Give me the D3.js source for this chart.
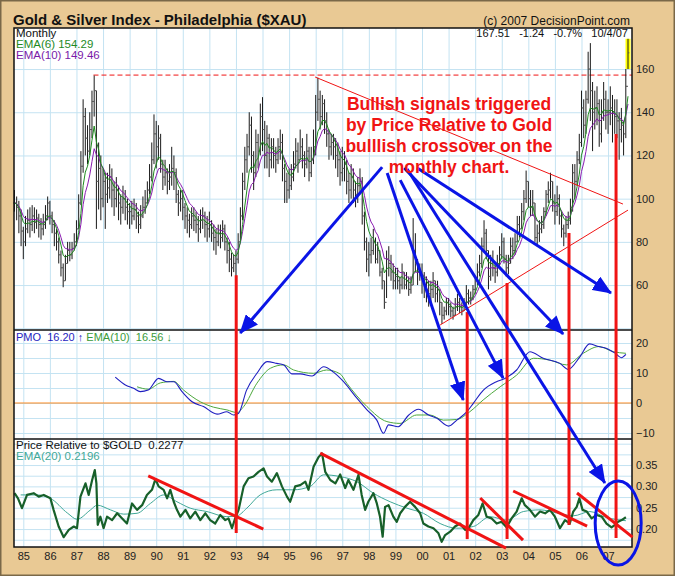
<!DOCTYPE html>
<html>
<head>
<meta charset="utf-8">
<script src="https://cdn.jsdelivr.net/npm/d3@7"></script>
<style>
  body { margin: 0; background: #E9C994; }
  svg { display: block; font-family: "Liberation Sans", Arial, sans-serif; }
</style>
</head>
<body>
<div id="chart"></div>
<script>
// monthly bars, first bar = Sep 1984
const firstMonth = 1984 + 8 / 12;

const closes = [
  98, 96, 92, 85,
  80, 86, 90, 88, 92, 89, 91, 88, 86, 88, 92, 98,
  92, 88, 84, 80, 74, 68, 62, 70, 76, 74, 77, 80,
  86, 98, 115, 138, 128, 122, 132, 145, 150, 108, 114, 100,
  108, 102, 105, 110, 104, 100, 104, 98, 96, 100, 96, 94,
  94, 92, 95, 92, 88, 92, 96, 98, 104, 110, 118, 130,
  124, 128, 116, 110, 112, 108, 110, 114, 112, 102, 98, 100,
  96, 92, 90, 88, 92, 90, 88, 86, 90, 92, 88, 86,
  88, 84, 82, 80, 84, 82, 86, 80, 76, 72, 68, 70,
  72, 80, 92, 108, 118, 124, 134, 120, 112, 126, 122, 138,
  132, 120, 128, 118, 124, 120, 118, 124, 126, 114, 108, 104,
  106, 110, 116, 122, 118, 124, 120, 116, 122, 112, 118, 124,
  140, 146, 138, 144, 136, 130, 124, 126, 124, 120, 118, 112,
  114, 116, 108, 104, 110, 104, 102, 106, 108, 92, 80, 72,
  74, 76, 80, 72, 76, 66, 62, 52, 72, 70, 66, 62,
  64, 62, 60, 66, 60, 62, 58, 60, 76, 70, 66, 66,
  62, 60, 58, 56, 58, 62, 56, 58, 52, 46, 48, 52,
  50, 48, 46, 50, 52, 50, 48, 52, 56, 54, 54, 58,
  62, 66, 70, 78, 84, 76, 64, 70, 68, 66, 70, 74,
  80, 72, 68, 70, 78, 76, 80, 88, 86, 94, 100, 108,
  100, 96, 98, 82, 84, 86, 88, 94, 102, 104, 108, 98,
  94, 100, 92, 86, 84, 88, 90, 96, 112, 108, 118, 126,
  142, 134, 146, 160, 150, 140, 142, 144, 130, 140, 146, 140,
  140, 142, 140, 138, 136, 132, 134, 130, 152, 167.51
];
const highs = [
  104, 101, 99, 95,
  87, 92, 95, 96, 97, 96, 95, 93, 91, 93, 97, 101,
  99, 94, 90, 86, 82, 76, 70, 74, 80, 80, 80, 84,
  90, 102, 122, 146, 142, 134, 140, 150, 157, 150, 126, 120,
  114, 112, 112, 116, 114, 108, 110, 106, 102, 106, 104, 100,
  98, 99, 100, 98, 94, 97, 101, 104, 108, 116, 126, 139,
  136, 134, 130, 118, 118, 114, 116, 124, 120, 114, 104, 104,
  104, 98, 96, 93, 96, 96, 94, 92, 95, 96, 94, 92,
  94, 90, 88, 86, 88, 88, 90, 88, 82, 80, 75, 74,
  76, 84, 96, 112, 124, 130, 140, 138, 122, 132, 130, 144,
  147, 136, 134, 130, 128, 128, 124, 128, 132, 130, 116, 112,
  114, 116, 122, 128, 126, 132, 128, 122, 130, 124, 124, 132,
  148, 156, 150, 148, 146, 140, 132, 130, 130, 128, 126, 122,
  124, 122, 118, 112, 116, 114, 108, 110, 114, 110, 94, 82,
  80, 82, 86, 82, 80, 76, 68, 62, 76, 78, 74, 70,
  68, 68, 64, 70, 66, 66, 64, 64, 91, 84, 72, 70,
  70, 66, 64, 62, 62, 66, 62, 62, 58, 52, 50, 54,
  54, 52, 50, 54, 56, 54, 52, 54, 60, 58, 57, 60,
  64, 70, 74, 82, 90, 86, 76, 74, 76, 70, 74, 78,
  84, 82, 74, 74, 82, 82, 84, 92, 92, 98, 104, 113,
  108, 104, 104, 98, 88, 90, 92, 96, 104, 108, 112, 108,
  102, 106, 102, 94, 88, 92, 94, 100, 116, 116, 122, 130,
  150, 146, 150, 168, 172, 154, 150, 152, 146, 146, 154, 150,
  146, 152, 148, 146, 146, 140, 142, 136, 160, 174
];
const lows = [
  94, 90, 84, 78,
  72, 78, 84, 82, 85, 84, 86, 82, 81, 83, 86, 90,
  88, 84, 78, 76, 70, 64, 59, 62, 70, 71, 72, 76,
  78, 86, 97, 112, 120, 116, 120, 128, 138, 86, 95, 90,
  96, 86, 98, 100, 96, 92, 96, 90, 88, 93, 90, 88,
  86, 88, 90, 86, 84, 86, 91, 93, 98, 102, 108, 116,
  114, 118, 112, 104, 106, 102, 104, 106, 104, 98, 92, 94,
  90, 86, 84, 82, 86, 85, 84, 80, 84, 86, 82, 80,
  82, 80, 76, 74, 78, 77, 80, 76, 70, 66, 64, 66,
  64, 70, 80, 90, 104, 112, 120, 112, 104, 110, 114, 120,
  122, 114, 114, 110, 114, 114, 112, 116, 118, 108, 98, 98,
  100, 104, 108, 114, 112, 118, 114, 110, 114, 108, 110, 116,
  120, 136, 132, 134, 130, 124, 118, 120, 118, 114, 110, 106,
  108, 108, 102, 98, 100, 98, 96, 98, 102, 88, 76, 66,
  64, 70, 74, 70, 70, 64, 58, 49, 54, 64, 62, 58,
  58, 58, 56, 58, 58, 58, 55, 56, 60, 66, 60, 62,
  56, 54, 52, 50, 52, 54, 52, 52, 46, 42, 44, 46,
  46, 45, 44, 46, 48, 47, 46, 48, 50, 51, 51, 53,
  56, 60, 64, 68, 76, 72, 58, 62, 64, 61, 64, 68,
  72, 70, 64, 65, 70, 72, 74, 80, 82, 86, 90, 98,
  96, 92, 92, 80, 78, 80, 84, 86, 92, 98, 100, 94,
  88, 92, 88, 82, 78, 82, 86, 88, 94, 100, 106, 116,
  124, 128, 130, 144, 136, 122, 132, 134, 124, 126, 136, 132,
  130, 134, 126, 130, 128, 118, 126, 120, 128, 160
];

// PMO and its signal line (decimal year, value)
const pmoT = [1988.46, 1988.84, 1989.15, 1989.40, 1989.70, 1990.09, 1990.40, 1990.66, 1990.97, 1991.35,
  1991.78, 1992.29, 1992.66, 1992.91, 1993.10, 1993.40, 1993.79, 1994.17, 1994.54, 1994.80,
  1995.10, 1995.42, 1995.86, 1996.30, 1996.67, 1997.05, 1997.55, 1997.93, 1998.30, 1998.55,
  1998.74, 1999.10, 1999.50, 1999.87, 2000.25, 2000.56, 2001.00, 2001.31, 2001.69, 2001.93,
  2002.31, 2002.80, 2003.12, 2003.56, 2004.06, 2004.56, 2005.19, 2005.50, 2005.94, 2006.30,
  2006.65, 2006.95, 2007.25, 2007.50, 2007.67];
const pmoV = [8.6, 6.0, 4.9, 3.8, 4.3, 8.2, 7.1, 7.1, 3.8, 0.4,
  -1.2, -3.7, -2.9, -4.0, -3.4, 4.3, 9.9, 13.8, 13.2, 12.7,
  9.7, 9.7, 9.0, 12.1, 10.3, 7.1, 1.6, -2.3, -5.7, -10.1,
  -7.3, -7.9, -4.0, -2.1, -4.0, -5.1, -7.7, -5.7, -2.9, -0.1,
  4.3, 7.1, 8.2, 11.0, 17.1, 14.9, 13.2, 11.2, 15.4, 19.7,
  18.8, 18.2, 16.7, 15.1, 16.2];
const sigT = [1989.28, 1989.70, 1990.16, 1990.66, 1991.03, 1991.66, 1992.16, 1992.66, 1993.04, 1993.29,
  1993.79, 1994.30, 1994.80, 1995.17, 1995.92, 1996.41, 1996.92, 1997.17, 1997.93, 1998.68,
  1999.17, 1999.80, 2000.30, 2000.80, 2001.30, 2001.80, 2002.30, 2002.94, 2003.56, 2004.20,
  2004.80, 2005.44, 2006.07, 2006.65, 2007.20, 2007.67];
const sigV = [5.4, 4.6, 6.7, 7.2, 4.3, 0.4, -1.4, -2.3, -3.2, -1.2,
  6.6, 11.6, 12.7, 11.0, 9.9, 11.0, 9.7, 6.6, -1.2, -6.2,
  -6.8, -4.0, -4.0, -5.7, -5.5, -2.9, 1.0, 5.4, 9.3, 14.9,
  14.3, 12.7, 16.6, 18.8, 17.1, 16.56];

// Price relative to $GOLD and its EMA(20)
const relT = [1984.67, 1984.80, 1984.95, 1985.14, 1985.39, 1985.58, 1985.77, 1986.02, 1986.14, 1986.33,
  1986.52, 1986.71, 1986.90, 1987.02, 1987.15, 1987.34, 1987.46, 1987.59, 1987.69, 1987.75,
  1987.80, 1987.90, 1988.02, 1988.15, 1988.34, 1988.53, 1988.72, 1988.90, 1989.09, 1989.28,
  1989.47, 1989.65, 1989.84, 1989.97, 1990.09, 1990.28, 1990.41, 1990.53, 1990.66, 1990.78,
  1990.91, 1991.10, 1991.28, 1991.47, 1991.66, 1991.85, 1992.03, 1992.22, 1992.41, 1992.60,
  1992.72, 1992.85, 1992.97, 1993.10, 1993.29, 1993.47, 1993.66, 1993.85, 1994.04, 1994.17,
  1994.35, 1994.54, 1994.73, 1994.92, 1995.04, 1995.23, 1995.42, 1995.61, 1995.73, 1995.92,
  1996.11, 1996.24, 1996.36, 1996.55, 1996.74, 1996.92, 1997.11, 1997.23, 1997.42, 1997.61,
  1997.73, 1997.86, 1997.98, 1998.17, 1998.30, 1998.42, 1998.52, 1998.61, 1998.74, 1998.92,
  1999.05, 1999.18, 1999.36, 1999.55, 1999.74, 1999.93, 2000.05, 2000.24, 2000.43, 2000.62,
  2000.74, 2000.87, 2001.06, 2001.24, 2001.43, 2001.62, 2001.75, 2001.93, 2002.12, 2002.28,
  2002.43, 2002.62, 2002.81, 2002.99, 2003.18, 2003.37, 2003.56, 2003.75, 2003.87, 2004.06,
  2004.25, 2004.44, 2004.63, 2004.81, 2005.00, 2005.19, 2005.38, 2005.56, 2005.69, 2005.82,
  2005.92, 2006.04, 2006.20, 2006.38, 2006.57, 2006.76, 2006.94, 2007.13, 2007.26, 2007.38,
  2007.51, 2007.67];
const relV = [0.284, 0.272, 0.249, 0.280, 0.284, 0.276, 0.280, 0.272, 0.245, 0.206,
  0.181, 0.198, 0.206, 0.202, 0.276, 0.307, 0.280, 0.315, 0.338, 0.307,
  0.210, 0.229, 0.202, 0.229, 0.221, 0.237, 0.225, 0.213, 0.260, 0.245,
  0.256, 0.280, 0.292, 0.317, 0.300, 0.292, 0.272, 0.292, 0.264, 0.245,
  0.229, 0.245, 0.225, 0.241, 0.221, 0.237, 0.221, 0.213, 0.233, 0.221,
  0.225, 0.202, 0.225, 0.245, 0.300, 0.319, 0.323, 0.334, 0.342, 0.323,
  0.311, 0.331, 0.300, 0.276, 0.264, 0.300, 0.303, 0.311, 0.292, 0.346,
  0.369, 0.377, 0.334, 0.315, 0.307, 0.328, 0.296, 0.315, 0.292, 0.327,
  0.280, 0.245, 0.264, 0.284, 0.260, 0.229, 0.182, 0.252, 0.256, 0.229,
  0.217, 0.237, 0.252, 0.264, 0.252, 0.237, 0.213, 0.206, 0.202, 0.190,
  0.170, 0.186, 0.194, 0.206, 0.213, 0.198, 0.202, 0.221, 0.233, 0.260,
  0.229, 0.225, 0.213, 0.217, 0.204, 0.225, 0.241, 0.272, 0.256, 0.245,
  0.229, 0.241, 0.237, 0.245, 0.229, 0.202, 0.221, 0.213, 0.241, 0.252,
  0.272, 0.245, 0.241, 0.225, 0.233, 0.229, 0.213, 0.204, 0.210, 0.217,
  0.221, 0.2277];
const relEmaT = [1984.90, 1985.50, 1986.02, 1986.67, 1987.02, 1987.53, 1987.78, 1988.28, 1988.78, 1989.28,
  1989.78, 1990.28, 1990.78, 1991.28, 1991.91, 1992.66, 1993.04, 1993.41, 1993.91, 1994.54,
  1995.17, 1995.79, 1996.30, 1996.92, 1997.55, 1998.17, 1998.80, 1999.43, 2000.05, 2000.68,
  2001.31, 2001.93, 2002.56, 2003.18, 2003.81, 2004.44, 2005.06, 2005.69, 2006.32, 2006.94,
  2007.67];
const relEmaV = [0.280, 0.280, 0.272, 0.237, 0.223, 0.245, 0.256, 0.245, 0.235, 0.237,
  0.260, 0.280, 0.264, 0.249, 0.241, 0.229, 0.231, 0.249, 0.280, 0.292,
  0.292, 0.300, 0.327, 0.323, 0.311, 0.284, 0.264, 0.249, 0.237, 0.213,
  0.202, 0.206, 0.229, 0.221, 0.241, 0.245, 0.238, 0.231, 0.241, 0.227,
  0.2196];

// axis ticks
const years = d3.range(1985, 2008);
const priceTicks = [60, 80, 100, 120, 140, 160];
const priceGrid = [40, 60, 80, 100, 120, 140, 160];
const pmoTicks = [-10, 0, 10, 20];
const pmoGrid = [-10, -5, 0, 5, 10, 15, 20];
const relTicks = [0.20, 0.25, 0.30, 0.35];
const relGrid = [0.175, 0.20, 0.225, 0.25, 0.275, 0.30, 0.325, 0.35, 0.375, 0.40];

// annotations (data units)
const resistancePrice = 157.2, resistanceStart = 1987.64;
const downTrend = [[1995.98, 156.3], [2007.56, 97.5]];
const upTrend = [[2000.68, 41.5], [2007.75, 94.7]];
const signalT = [1993.01, 2001.70, 2003.20, 2005.53, 2007.30];
const signalTopPrice = [64.6, 47.5, 60.9, 84.1, 129.9];
const signalBottomRel = [0.1906, 0.1765, 0.1765, 0.2094, 0.1789];
const relTrends = [
  [[1989.70, 0.3244], [1994.03, 0.200]],
  [[1996.17, 0.378], [2003.16, 0.1554]],
  [[2002.19, 0.2728], [2003.80, 0.1742]],
  [[2003.43, 0.2892], [2006.21, 0.207]],
  [[2005.83, 0.2845], [2007.92, 0.1812]]
];
const arrowFrom = [[1998.50, 114.6], [1998.69, 111.9], [1999.18, 108.6], [1999.33, 114.2], [1999.44, 113.7], [1999.82, 114.2]];
const arrowToPanel = ["pmo", "pmo", "pmo", "pmo", "rel", "price"];
const arrowTo = [[1993.16, 23.3], [2001.55, 1.0], [2003.05, 8.3], [2005.31, 23.0], [2006.88, 0.308], [2007.11, 56.3]];
const ellipseCenter = [2007.38, 0.214];
const noteLines = ["Bullish signals triggered", "by Price Relative to Gold", "bulllish crossover on the", "monthly chart."];

const W = 675, H = 576;
const plot = {left: 14, right: 632, top: 28, priceBottom: 330, pmoBottom: 439, bottom: 547};
const RED = "#F01414", BLUE = "#0A14E6", GRID = "#C4E3F2";

const svg = d3.select("#chart").append("svg").attr("width", W).attr("height", H);
svg.append("rect").attr("width", W).attr("height", H).attr("fill", "#E9C994");
svg.append("rect").attr("x", 0.75).attr("y", 0.75).attr("width", W - 1.5).attr("height", H - 1.5)
  .attr("fill", "none").attr("stroke", "#7a6848").attr("stroke-width", 1.5);

const x = d3.scaleLinear().domain([1984.65, 2007.9]).range([plot.left, plot.right]);
const yPrice = d3.scaleLinear().domain([39.2, 179]).range([plot.priceBottom, plot.top]);
const yPmo = d3.scaleLinear().domain([-12, 24.33]).range([plot.pmoBottom, plot.priceBottom]);
const yRel = d3.scaleLinear().domain([0.158, 0.411]).range([plot.bottom, plot.pmoBottom]);
const yOf = {price: yPrice, pmo: yPmo, rel: yRel};

svg.append("rect").attr("x", plot.left).attr("y", plot.top)
  .attr("width", plot.right - plot.left).attr("height", plot.bottom - plot.top).attr("fill", "#fff");

// grid lines per panel
function panelGrid(yScale, gridVals, top, bottom) {
  const g = svg.append("g");
  g.append("g").attr("transform", "translate(" + plot.left + ",0)")
    .call(d3.axisLeft(yScale).tickValues(gridVals).tickSize(-(plot.right - plot.left)).tickFormat(""));
  g.append("g").attr("transform", "translate(0," + bottom + ")")
    .call(d3.axisBottom(x).tickValues(years).tickSize(-(bottom - top)).tickFormat(""));
  g.selectAll(".domain").remove();
  g.selectAll(".tick line").attr("stroke", GRID).attr("stroke-width", 1);
}
panelGrid(yPrice, priceGrid, plot.top, plot.priceBottom);
panelGrid(yPmo, pmoGrid, plot.priceBottom, plot.pmoBottom);
panelGrid(yRel, relGrid, plot.pmoBottom, plot.bottom);

// right-hand value labels
function rightAxis(yScale, ticks, fmt) {
  const g = svg.append("g").attr("transform", "translate(" + plot.right + ",0)")
    .call(d3.axisRight(yScale).tickValues(ticks).tickSize(0).tickPadding(4).tickFormat(fmt));
  g.select(".domain").remove();
  g.selectAll("text").attr("font-size", 11).attr("fill", "#222")
    .attr("font-family", "Liberation Sans, Arial, sans-serif");
}
rightAxis(yPrice, priceTicks, d3.format("d"));
rightAxis(yPmo, pmoTicks, d3.format("d"));
rightAxis(yRel, relTicks, d3.format(".2f"));

// year labels
const gx = svg.append("g").attr("transform", "translate(0," + plot.bottom + ")")
  .call(d3.axisBottom(x).tickValues(years).tickSize(0).tickPadding(5).tickFormat(d => String(d).slice(2)));
gx.select(".domain").remove();
gx.selectAll("text").attr("font-size", 11).attr("fill", "#222")
  .attr("font-family", "Liberation Sans, Arial, sans-serif");

// ---- price panel ----
const bars = closes.map((c, i) => ({t: firstMonth + i / 12, o: i > 0 ? closes[i - 1] : c, c: c, h: highs[i], l: lows[i]}));
const last = bars[bars.length - 1];

svg.append("line")
  .attr("x1", x(resistanceStart)).attr("x2", plot.right)
  .attr("y1", yPrice(resistancePrice)).attr("y2", yPrice(resistancePrice))
  .attr("stroke", RED).attr("stroke-width", 1).attr("stroke-dasharray", "5,3");

svg.append("rect")
  .attr("x", x(last.t) - 2.5).attr("y", yPrice(last.h))
  .attr("width", 5).attr("height", yPrice(last.l) - yPrice(last.h))
  .attr("fill", "#FFFF00");

const gBars = svg.append("g").attr("stroke", "#1a1a1a").attr("stroke-width", 1);
gBars.selectAll("line.hl").data(bars).join("line").attr("class", "hl")
  .attr("x1", d => x(d.t)).attr("x2", d => x(d.t))
  .attr("y1", d => yPrice(d.h)).attr("y2", d => yPrice(d.l));
gBars.selectAll("line.op").data(bars).join("line").attr("class", "op")
  .attr("x1", d => x(d.t) - 1.3).attr("x2", d => x(d.t))
  .attr("y1", d => yPrice(d.o)).attr("y2", d => yPrice(d.o)).attr("stroke", "#555");
gBars.selectAll("line.cl").data(bars).join("line").attr("class", "cl")
  .attr("x1", d => x(d.t)).attr("x2", d => x(d.t) + 1.3)
  .attr("y1", d => yPrice(d.c)).attr("y2", d => yPrice(d.c)).attr("stroke", "#555");

function ema(vals, n) {
  const k = 2 / (n + 1);
  let e = vals[0];
  return vals.map((v, i) => (e = i === 0 ? v : v * k + e * (1 - k)));
}
const ema6 = ema(closes, 6), ema10 = ema(closes, 10);
const priceLine = d3.line().x((d, i) => x(bars[i].t)).y(d => yPrice(d));
svg.append("path").attr("d", priceLine(ema10)).attr("fill", "none").attr("stroke", "#8A1AB0").attr("stroke-width", 1);
svg.append("path").attr("d", priceLine(ema6)).attr("fill", "none").attr("stroke", "#1E8A1E").attr("stroke-width", 1);

[downTrend, upTrend].forEach(seg => {
  svg.append("line")
    .attr("x1", x(seg[0][0])).attr("y1", yPrice(seg[0][1]))
    .attr("x2", x(seg[1][0])).attr("y2", yPrice(seg[1][1]))
    .attr("stroke", RED).attr("stroke-width", 1);
});

// ---- PMO panel ----
svg.append("line").attr("x1", plot.left).attr("x2", plot.right)
  .attr("y1", yPmo(0)).attr("y2", yPmo(0)).attr("stroke", "#FF8A1E").attr("stroke-width", 1.2);
const pmoLine = d3.line().x(d => x(d[0])).y(d => yPmo(d[1])).curve(d3.curveMonotoneX);
svg.append("path").attr("d", pmoLine(d3.zip(sigT, sigV))).attr("fill", "none").attr("stroke", "#4CA83C").attr("stroke-width", 1);
svg.append("path").attr("d", pmoLine(d3.zip(pmoT, pmoV))).attr("fill", "none").attr("stroke", "#1E1EC0").attr("stroke-width", 1.1);

// ---- price relative panel ----
svg.append("path")
  .attr("d", d3.line().x(d => x(d[0])).y(d => yRel(d[1])).curve(d3.curveMonotoneX)(d3.zip(relEmaT, relEmaV)))
  .attr("fill", "none").attr("stroke", "#3FA898").attr("stroke-width", 1);
svg.append("path")
  .attr("d", d3.line().x(d => x(d[0])).y(d => yRel(d[1]))(d3.zip(relT, relV)))
  .attr("fill", "none").attr("stroke", "#17602A").attr("stroke-width", 2.2).attr("stroke-linejoin", "round");

// panel frames
const frame = svg.append("g").attr("stroke", "#111").attr("stroke-width", 1.5).attr("fill", "none");
frame.append("rect").attr("x", plot.left).attr("y", plot.top)
  .attr("width", plot.right - plot.left).attr("height", plot.bottom - plot.top);
[plot.priceBottom, plot.pmoBottom].forEach(yy => {
  frame.append("line").attr("x1", plot.left).attr("x2", plot.right).attr("y1", yy).attr("y2", yy);
});

// ---- annotations ----
relTrends.forEach(seg => {
  svg.append("line")
    .attr("x1", x(seg[0][0])).attr("y1", yRel(seg[0][1]))
    .attr("x2", x(seg[1][0])).attr("y2", yRel(seg[1][1]))
    .attr("stroke", RED).attr("stroke-width", 3);
});
signalT.forEach((t, i) => {
  svg.append("line")
    .attr("x1", x(t)).attr("x2", x(t))
    .attr("y1", yPrice(signalTopPrice[i])).attr("y2", yRel(signalBottomRel[i]))
    .attr("stroke", RED).attr("stroke-width", 3);
});

svg.append("defs").append("marker")
  .attr("id", "head").attr("markerUnits", "userSpaceOnUse")
  .attr("markerWidth", 20).attr("markerHeight", 16)
  .attr("refX", 18).attr("refY", 8).attr("orient", "auto")
  .append("path").attr("d", "M0,0 L19,8 L0,16 Z").attr("fill", BLUE);

arrowFrom.forEach((p, i) => {
  const yTo = yOf[arrowToPanel[i]];
  svg.append("line")
    .attr("x1", x(p[0])).attr("y1", yPrice(p[1]))
    .attr("x2", x(arrowTo[i][0])).attr("y2", yTo(arrowTo[i][1]))
    .attr("stroke", BLUE).attr("stroke-width", 3).attr("marker-end", "url(#head)");
});

svg.append("ellipse")
  .attr("cx", x(ellipseCenter[0])).attr("cy", yRel(ellipseCenter[1]))
  .attr("rx", 23).attr("ry", 42)
  .attr("fill", "none").attr("stroke", BLUE).attr("stroke-width", 3);

svg.append("g").selectAll("text").data(noteLines).join("text")
  .attr("x", 449).attr("y", (d, i) => 110 + i * 21)
  .attr("text-anchor", "middle").attr("font-size", 17.5).attr("font-weight", "bold")
  .attr("fill", RED).text(d => d);

// ---- titles and legends ----
svg.append("text").attr("x", 13).attr("y", 25).attr("font-size", 15).attr("font-weight", "bold")
  .attr("fill", "#111").text("Gold & Silver Index - Philadelphia ($XAU)");
svg.append("text").attr("x", 630).attr("y", 25).attr("text-anchor", "end").attr("font-size", 12)
  .attr("fill", "#111").text("(c) 2007 DecisionPoint.com");

const legend = [["Monthly", "#111"], ["EMA(6) 154.29", "#1E8A1E"], ["EMA(10) 149.46", "#7A1AA8"]];
svg.append("g").selectAll("text").data(legend).join("text")
  .attr("x", 16).attr("y", (d, i) => 37 + i * 11).attr("font-size", 11.5)
  .attr("fill", d => d[1]).text(d => d[0]);

const stats = svg.append("text").attr("x", 628).attr("y", 37).attr("text-anchor", "end")
  .attr("font-size", 11).attr("fill", "#111").attr("xml:space", "preserve");
stats.text("167.51   -1.24   -0.7%   10/4/07");

const pmoLabel = svg.append("text").attr("x", 16).attr("y", 341).attr("font-size", 11).attr("xml:space", "preserve");
pmoLabel.append("tspan").attr("fill", "#1E1EC0").text("PMO  16.20 \u2191 ");
pmoLabel.append("tspan").attr("fill", "#3A9A3A").text("EMA(10)  16.56 \u2193");

svg.append("text").attr("x", 16).attr("y", 449).attr("font-size", 11.5).attr("fill", "#111")
  .attr("xml:space", "preserve").text("Price Relative to $GOLD  0.2277");
svg.append("text").attr("x", 16).attr("y", 460).attr("font-size", 11.5).attr("fill", "#3FA898")
  .text("EMA(20) 0.2196");
</script>
</body>
</html>
